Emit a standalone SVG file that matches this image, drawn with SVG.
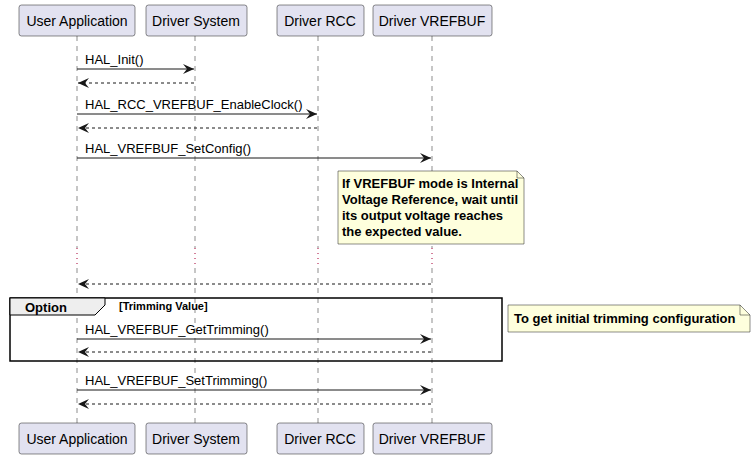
<svg xmlns="http://www.w3.org/2000/svg" width="756" height="458" viewBox="0 0 756 458">
<defs>
<style>
.p{fill:#E2E2F0;stroke:#181818;stroke-width:0.5}
.pt{font-family:"Liberation Sans",Arial,sans-serif;font-size:14px;fill:#000;text-anchor:middle}
.ll{stroke:#181818;stroke-width:0.5;stroke-dasharray:5,5}
.dl{stroke:#A80036;stroke-width:1;stroke-dasharray:1,4}
.m{stroke:#181818;stroke-width:1;fill:none}
.r{stroke:#181818;stroke-width:1;fill:none;stroke-dasharray:3,3}
.t{font-family:"Liberation Sans",Arial,sans-serif;font-size:13px;fill:#000}
.b{font-family:"Liberation Sans",Arial,sans-serif;font-size:13px;font-weight:bold;fill:#000}
.n{fill:#FEFFDD;stroke:#181818;stroke-width:0.5}
</style>
<marker id="a" markerWidth="12" markerHeight="10" refX="11" refY="5" orient="auto" markerUnits="userSpaceOnUse"><path d="M0,0 L11,5 L0,10 L4,5 Z" fill="#181818"/></marker>
<marker id="o" markerWidth="12" markerHeight="10" refX="11" refY="5" orient="auto" markerUnits="userSpaceOnUse"><path d="M0,0 L11,5 L0,10 L4,5 Z" fill="#181818"/></marker>
</defs>
<rect width="756" height="458" fill="#fff"/>
<g id="lifelines">
<line class="ll" x1="77" y1="36" x2="77" y2="248"/><line class="dl" x1="77" y1="248" x2="77" y2="268"/><line class="ll" x1="77" y1="268" x2="77" y2="423"/>
<line class="ll" x1="195" y1="36" x2="195" y2="248"/><line class="dl" x1="195" y1="248" x2="195" y2="268"/><line class="ll" x1="195" y1="268" x2="195" y2="423"/>
<line class="ll" x1="318" y1="36" x2="318" y2="248"/><line class="dl" x1="318" y1="248" x2="318" y2="268"/><line class="ll" x1="318" y1="268" x2="318" y2="423"/>
<line class="ll" x1="432" y1="36" x2="432" y2="248"/><line class="dl" x1="432" y1="248" x2="432" y2="268"/><line class="ll" x1="432" y1="268" x2="432" y2="423"/>
</g>
<g id="ua"><rect class="p" x="19" y="5" width="116" height="31" rx="2.5"/><text class="pt" x="77" y="26">User Application</text>
<rect class="p" x="19" y="423" width="116" height="31" rx="2.5"/><text class="pt" x="77" y="444">User Application</text></g>
<g id="ds"><rect class="p" x="146" y="5" width="101" height="31" rx="2.5"/><text class="pt" x="196" y="26">Driver System</text>
<rect class="p" x="146" y="423" width="101" height="31" rx="2.5"/><text class="pt" x="196" y="444">Driver System</text></g>
<g id="rcc"><rect class="p" x="277" y="5" width="87" height="31" rx="2.5"/><text class="pt" x="320" y="26">Driver RCC</text>
<rect class="p" x="277" y="423" width="87" height="31" rx="2.5"/><text class="pt" x="320" y="444">Driver RCC</text></g>
<g id="vref"><rect class="p" x="373" y="5" width="119" height="31" rx="2.5"/><text class="pt" x="432" y="26">Driver VREFBUF</text>
<rect class="p" x="373" y="423" width="119" height="31" rx="2.5"/><text class="pt" x="432" y="444">Driver VREFBUF</text></g>
<g id="option">
<rect x="10" y="298" width="492" height="63" fill="none" stroke="#000" stroke-width="1.5"/>
<path d="M10,298 H105 V305 L95,315 H10 Z" fill="#EEEEEE" stroke="#000" stroke-width="1"/>
<text class="b" x="25" y="312">Option</text>
<text x="119" y="310" font-family="Liberation Sans,Arial,sans-serif" font-size="11" font-weight="bold">[Trimming Value]</text>
</g>
<g id="note1"><path class="n" d="M338,171 H517 L524,178 V244 H338 Z"/><path d="M517,171 V178 H524" fill="none" stroke="#181818" stroke-width="0.5"/>
<text class="b" x="342" y="188">If VREFBUF mode is Internal</text>
<text class="b" x="342" y="204">Voltage Reference, wait until</text>
<text class="b" x="342" y="220">its output voltage reaches</text>
<text class="b" x="342" y="236">the expected value.</text></g>
<g id="note2"><path class="n" d="M508,305 H740 L750,315 V332 H508 Z"/><path d="M740,305 V315 H750" fill="none" stroke="#181818" stroke-width="0.5"/>
<text class="b" x="514" y="323">To get initial trimming configuration</text></g>
<g id="connectors">
<line class="m" x1="77" y1="69" x2="194" y2="69" marker-end="url(#a)"/><text class="t" x="85" y="64">HAL_Init()</text>
<line class="r" x1="194" y1="83" x2="78" y2="83" marker-end="url(#o)"/>
<line class="m" x1="77" y1="114" x2="317" y2="114" marker-end="url(#a)"/><text class="t" x="85" y="109">HAL_RCC_VREFBUF_EnableClock()</text>
<line class="r" x1="317" y1="128" x2="78" y2="128" marker-end="url(#o)"/>
<line class="m" x1="77" y1="158" x2="431" y2="158" marker-end="url(#a)"/><text class="t" x="85" y="153">HAL_VREFBUF_SetConfig()</text>
<line class="r" x1="431" y1="284" x2="78" y2="284" marker-end="url(#o)"/>
<line class="m" x1="77" y1="339" x2="431" y2="339" marker-end="url(#a)"/><text class="t" x="85" y="334">HAL_VREFBUF_GetTrimming()</text>
<line class="r" x1="431" y1="352" x2="78" y2="352" marker-end="url(#o)"/>
<line class="m" x1="77" y1="390" x2="431" y2="390" marker-end="url(#a)"/><text class="t" x="85" y="385">HAL_VREFBUF_SetTrimming()</text>
<line class="r" x1="431" y1="404" x2="78" y2="404" marker-end="url(#o)"/>
</g>
</svg>
